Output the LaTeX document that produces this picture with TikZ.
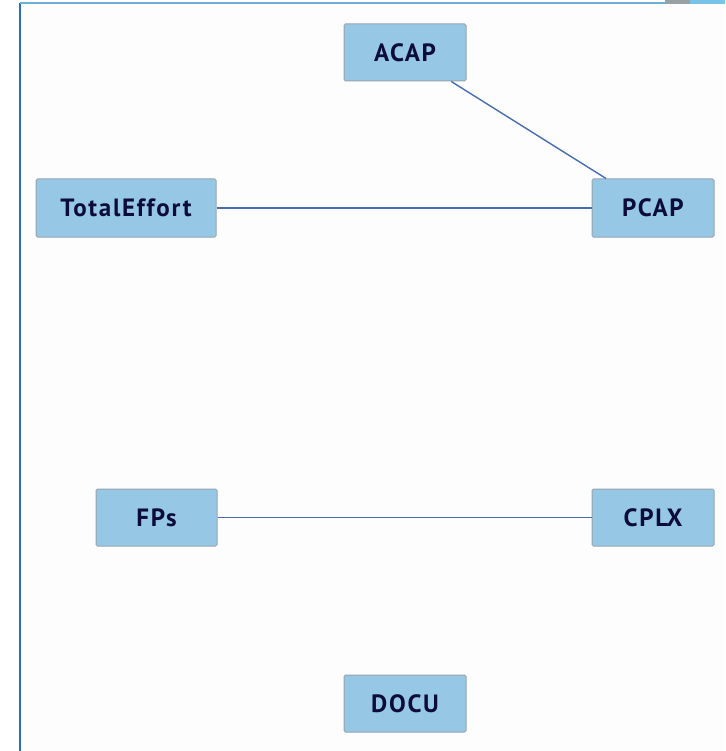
\documentclass[tikz,border=0pt]{standalone}
\usepackage{fontspec}
\setmainfont{PT Sans}
\newfontfamily\labelfont[LetterSpace=7]{PT Sans}
\definecolor{boxfill}{RGB}{150,199,228}
\definecolor{boxline}{RGB}{150,165,178}
\definecolor{labeltext}{RGB}{12,12,60}
\definecolor{edgeblue}{RGB}{70,110,175}
\definecolor{frameblue}{RGB}{40,110,185}
\definecolor{paper}{RGB}{253,253,253}
\tikzset{
  factor/.style={draw=boxline, line width=1pt, fill=boxfill, rounded corners=1.5pt,
    text=labeltext, font=\labelfont\bfseries\fontsize{25}{28}\selectfont, minimum width=122pt,
    minimum height=57pt, inner sep=0pt},
  link/.style={draw=edgeblue, line width=1.4pt}
}
\begin{document}
\begin{tikzpicture}[x=1pt,y=-1pt]
  \useasboundingbox (0,0) rectangle (725,751);
  % canvas and its frame
  \fill[white] (0,0) rectangle (725,751);
  \fill[paper] (20,3) rectangle (725,751);
  \draw[frameblue, line width=2pt] (20,751) -- (20,3);
  \draw[color={rgb,255:red,110;green,175;blue,215}, line width=2pt] (20,3) -- (725,3);
  \fill[color={rgb,255:red,150;green,160;blue,165}] (665,0) rectangle (690,4);
  \fill[color={rgb,255:red,120;green,195;blue,230}] (690,0) rectangle (725,4);
  % factors
  \node[factor] (acap) at (405,52.5) {ACAP};
  \node[factor, minimum width=180pt, minimum height=58pt] (total) at (126,208) {TotalEffort};
  \node[factor, minimum height=58pt] (pcap) at (653,208) {PCAP};
  \node[factor, minimum width=121pt] (fps) at (156.5,517.5) {FPs};
  \node[factor] (cplx) at (653,517.5) {CPLX};
  \node[factor] (docu) at (405,703.5) {DOCU};
  % links
  \draw[link] (acap) -- (pcap);
  \draw[link] (total) -- (pcap);
  \draw[link] (fps) -- (cplx);
\end{tikzpicture}
\end{document}
